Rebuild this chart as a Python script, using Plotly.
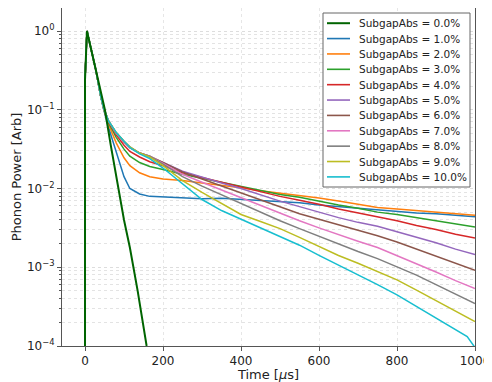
import plotly.graph_objects as go

# ---- data (values given as log10 of phonon power) ----
time_common = [0, 0, 5, 28, 40, 48, 60, 80, 100, 115, 140, 166, 200, 250, 300, 350, 400,
               450, 500, 550, 600, 650, 700, 750, 800, 850, 900, 950, 980, 1000]
start_log = [-8, -0.62, 0, -0.5, -0.82]

time_zero = [0, 0, 5, 28, 51, 66, 81, 100, 115, 135, 158, 175]
log_zero = [-8, -0.62, 0, -0.5, -1.0, -1.45, -1.89, -2.40, -2.75, -3.30, -4.0, -4.45]

label_zero = "SubgapAbs = 0.0%"
labels = ["SubgapAbs = 1.0%", "SubgapAbs = 2.0%", "SubgapAbs = 3.0%", "SubgapAbs = 4.0%",
          "SubgapAbs = 5.0%", "SubgapAbs = 6.0%", "SubgapAbs = 7.0%", "SubgapAbs = 8.0%",
          "SubgapAbs = 9.0%", "SubgapAbs = 10.0%"]

log_1 = [-1.0, -1.22, -1.54, -1.85, -2.00, -2.07, -2.10, -2.11, -2.12, -2.13, -2.125, -2.14, -2.15,
         -2.17, -2.18, -2.21, -2.23, -2.25, -2.27, -2.29, -2.31, -2.32, -2.34, -2.35, -2.36]
log_2 = [-0.99, -1.18, -1.42, -1.61, -1.71, -1.80, -1.85, -1.88, -1.90, -1.93, -1.96, -1.99, -2.03,
         -2.06, -2.09, -2.12, -2.16, -2.20, -2.24, -2.26, -2.28, -2.30, -2.32, -2.33, -2.34]
log_3 = [-0.99, -1.16, -1.35, -1.50, -1.59, -1.67, -1.72, -1.76, -1.82, -1.87, -1.92, -1.97, -2.02,
         -2.075, -2.11, -2.16, -2.21, -2.25, -2.30, -2.33, -2.37, -2.41, -2.45, -2.47, -2.49]
log_4 = [-0.98, -1.15, -1.32, -1.45, -1.53, -1.60, -1.66, -1.71, -1.80, -1.86, -1.92, -1.98, -2.04,
         -2.10, -2.15, -2.20, -2.26, -2.31, -2.36, -2.41, -2.47, -2.52, -2.58, -2.61, -2.63]
log_5 = [-0.98, -1.14, -1.30, -1.41, -1.48, -1.55, -1.60, -1.67, -1.78, -1.86, -1.93, -2.00, -2.08,
         -2.16, -2.23, -2.30, -2.37, -2.43, -2.48, -2.55, -2.62, -2.69, -2.77, -2.81, -2.84]
log_6 = [-0.98, -1.14, -1.30, -1.41, -1.48, -1.55, -1.59, -1.67, -1.79, -1.88, -1.97, -2.06, -2.15,
         -2.24, -2.32, -2.39, -2.46, -2.53, -2.60, -2.68, -2.77, -2.86, -2.95, -3.00, -3.04]
log_7 = [-0.98, -1.14, -1.30, -1.41, -1.48, -1.55, -1.59, -1.68, -1.82, -1.92, -2.02, -2.11, -2.22,
         -2.32, -2.41, -2.50, -2.59, -2.67, -2.75, -2.85, -2.96, -3.06, -3.17, -3.23, -3.27]
log_8 = [-0.98, -1.14, -1.29, -1.40, -1.47, -1.55, -1.59, -1.69, -1.85, -1.97, -2.08, -2.20, -2.31,
         -2.41, -2.51, -2.61, -2.71, -2.80, -2.89, -2.99, -3.10, -3.22, -3.34, -3.41, -3.46]
log_9 = [-0.98, -1.14, -1.29, -1.40, -1.47, -1.55, -1.60, -1.71, -1.90, -2.05, -2.19, -2.33, -2.42,
         -2.51, -2.62, -2.74, -2.85, -2.95, -3.05, -3.16, -3.29, -3.42, -3.55, -3.63, -3.69]
log_10 = [-0.98, -1.14, -1.29, -1.40, -1.48, -1.56, -1.62, -1.74, -1.94, -2.14, -2.28, -2.39, -2.50,
          -2.61, -2.72, -2.85, -2.97, -3.10, -3.22, -3.35, -3.50, -3.65, -3.79, -3.88, -4.02]

series_logs = [log_1, log_2, log_3, log_4, log_5, log_6, log_7, log_8, log_9, log_10]
colors = ["#1f77b4", "#ff7f0e", "#2ca02c", "#d62728", "#9467bd",
          "#8c564b", "#e377c2", "#7f7f7f", "#bcbd22", "#17becf"]
color_zero = "#006400"

y_tick_vals = [1e-4, 1e-3, 1e-2, 1e-1, 1]
y_tick_text = ["10<sup>\u22124</sup>", "10<sup>\u22123</sup>", "10<sup>\u22122</sup>",
               "10<sup>\u22121</sup>", "10<sup>0</sup>"]
x_tick_vals = [0, 200, 400, 600, 800, 1000]

fig = go.Figure()
for lab, lg, col in zip(labels, series_logs, colors):
    ys = [10 ** v for v in start_log + lg]
    fig.add_trace(go.Scatter(x=time_common, y=ys, mode="lines", name=lab,
                             line=dict(color=col, width=1.5)))
fig.add_trace(go.Scatter(x=time_zero, y=[10 ** v for v in log_zero], mode="lines",
                         name=label_zero, line=dict(color=color_zero, width=2)))

minor_vals = [m * 10 ** e for e in range(-4, 1) for m in range(2, 10)]

# ---- geometry (page pixels; the page body adds an 8px offset) ----
OFF = 8
FIG_W, FIG_H = 492 - OFF, 382 - OFF
L, R, T, B = 62, 475, 8, 346          # plot area in page pixels
W, H = R - L, B - T
px = lambda x: (x - L) / W
py = lambda y: 1 - (y - T) / H

# ---- hand-built legend (matplotlib-like compact spacing) ----
shapes = [dict(type="rect", xref="paper", yref="paper", x0=px(323), x1=px(470),
               y0=py(187), y1=py(13), fillcolor="white",
               line=dict(color="#666666", width=1))]
annotations = []
leg_labels = [label_zero] + labels
leg_colors = [color_zero] + colors
for i, (lab, col) in enumerate(zip(leg_labels, leg_colors)):
    yy = 23.2 + 15.37 * i
    shapes.append(dict(type="line", xref="paper", yref="paper", x0=px(327), x1=px(350),
                       y0=py(yy), y1=py(yy),
                       line=dict(color=col, width=2 if i == 0 else 1.6)))
    annotations.append(dict(xref="paper", yref="paper", x=px(357), y=py(yy), text=lab,
                            showarrow=False, xanchor="left", yanchor="middle",
                            font=dict(size=10.5, color="#222222")))

fig.update_layout(
    width=FIG_W, height=FIG_H,
    margin=dict(l=L - OFF, r=492 - R, t=T - OFF, b=382 - B),
    paper_bgcolor="white", plot_bgcolor="white",
    font=dict(family="DejaVu Sans", size=12, color="#222222"),
    showlegend=False,
    shapes=shapes, annotations=annotations,
)
fig.update_xaxes(
    range=[-59, 1000], tickvals=x_tick_vals, ticks="outside", ticklen=4,
    tickcolor="#555555", showline=True, linecolor="#555555", linewidth=1, mirror=True,
    showgrid=True, gridcolor="#e6e6e6", griddash="dot", gridwidth=1, zeroline=False,
    title=dict(text="Time [<i>\u03bc</i>s]", font=dict(size=13), standoff=2),
    tickfont=dict(size=12), automargin=False,
)
fig.update_yaxes(
    type="log", range=[-4, 0.292], tickvals=y_tick_vals, ticktext=y_tick_text,
    ticks="outside", ticklen=4, tickcolor="#555555", showline=True, linecolor="#555555",
    linewidth=1, mirror=True, showgrid=True, gridcolor="#dddddd", griddash="dot",
    gridwidth=1, zeroline=False,
    minor=dict(tickmode="array", tickvals=minor_vals, ticks="outside", ticklen=2,
               tickcolor="#555555", showgrid=True, gridcolor="#e3e3e3", griddash="dot"),
    title=dict(text="Phonon Power [Arb]", font=dict(size=13), standoff=2),
    tickfont=dict(size=12), automargin=False,
)

fig.write_html("out.html")
